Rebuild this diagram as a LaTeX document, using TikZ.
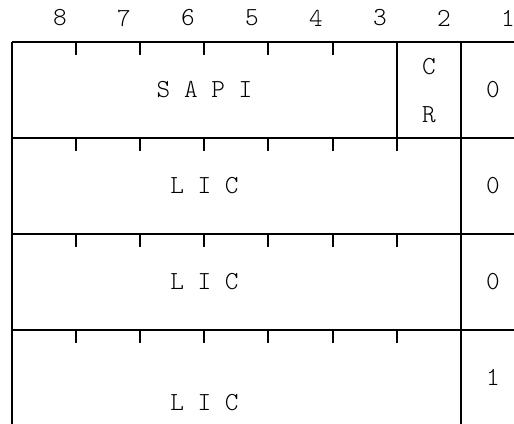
\documentclass[tikz,border=0pt]{standalone}
\usepackage{tikz}

\begin{document}
\begin{tikzpicture}[
  x=1pt, y=-1pt,
  every node/.style={font=\ttfamily\fontseries{l}\fontsize{26}{30}\selectfont, inner sep=0pt, align=center},
  frame/.style={line width=2pt},
  notch/.style={line width=2pt}
]
\useasboundingbox (0,0) rectangle (514,423);
\clip (0,0) rectangle (514,423);

% Bit numbers
\foreach \b [count=\i from 0] in {8,7,6,5,4,3,2,1}
  \node (bit\b) at (60+64*\i, 18) {\b};

% Octet frame
\foreach \y in {42,138,234,330}
  \draw[frame] (12,\y) -- (530,\y);
\draw[frame] (12,42) -- (12,440);
\draw[frame] (461,42) -- (461,440);
\draw[frame] (397,42) -- (397,138);

% Notches on top of each octet
\foreach \x in {76,140,204,268,333}
  \draw[notch] (\x,42) -- (\x,55);
\foreach \y in {138,234,330}
  \foreach \x in {76,140,204,268,333,397}
    \draw[notch] (\x,\y) -- (\x,\y+13);

% Octet 1
\node (sapi) at (204.5,90) {S A P I};
\node (c) at (429,67) {C};
\node (r) at (429,115) {R};
\node (ea1) at (493,90) {0};

% Octets 2 and 3
\node (lic1) at (204.5,186) {L I C};
\node (ea2) at (493,186) {0};
\node (lic2) at (204.5,282) {L I C};
\node (ea3) at (493,282) {0};

% Octet 4
\node (lic3) at (204.5,403) {L I C};
\node (ea4) at (493,377) {1};
\end{tikzpicture}
\end{document}
